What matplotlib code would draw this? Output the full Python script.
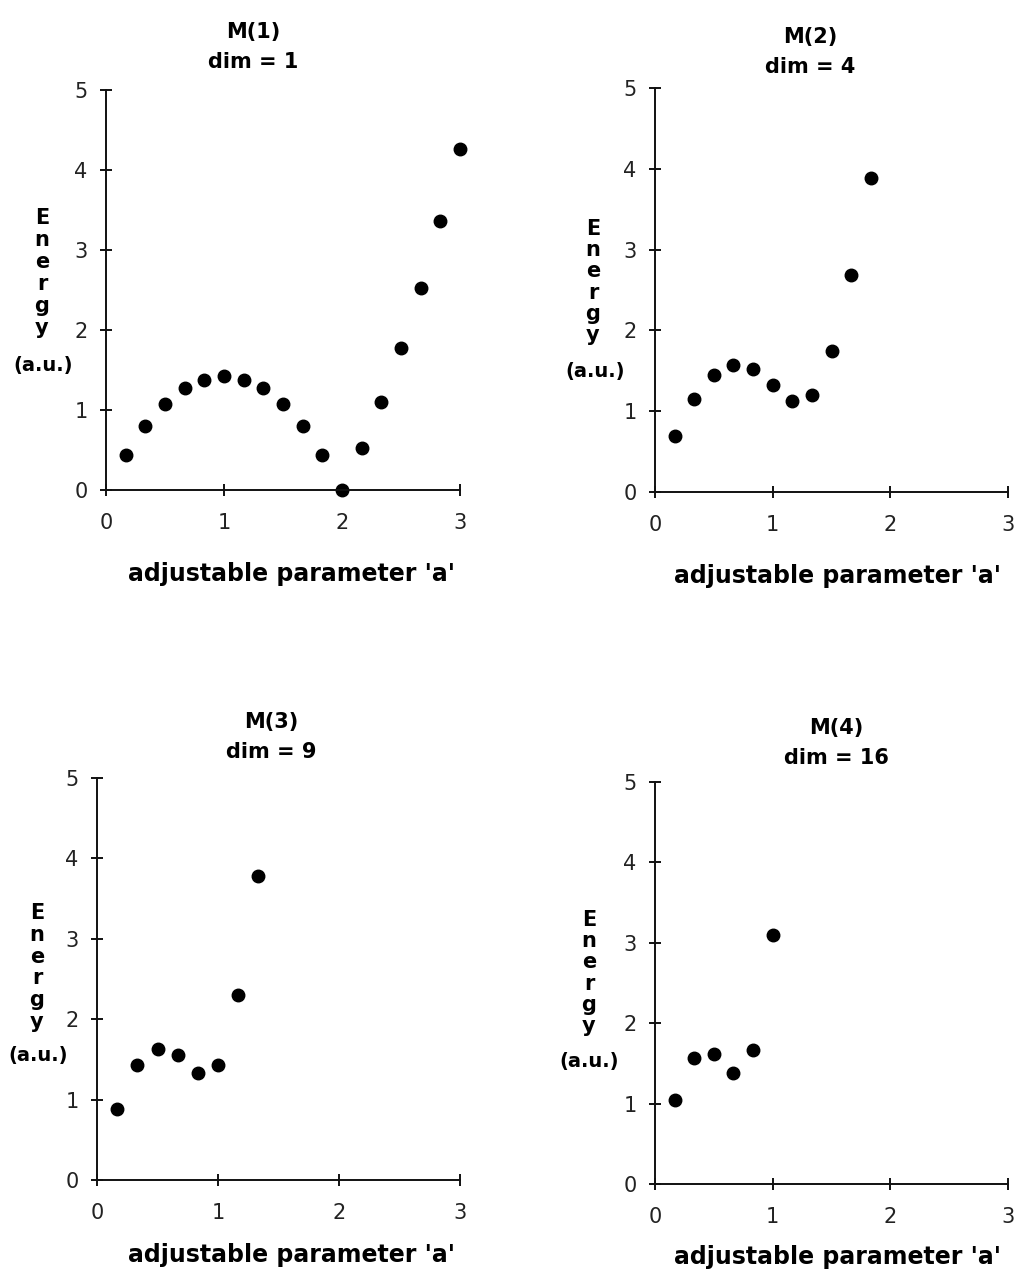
import numpy as np
import matplotlib
matplotlib.use('Agg')
import matplotlib.pyplot as plt

# adjustable parameter a, steps of 1/6
a_m1 = [1/6, 2/6, 3/6, 4/6, 5/6, 1.0, 7/6, 8/6, 9/6, 10/6, 11/6, 2.0,
        13/6, 14/6, 15/6, 16/6, 17/6, 3.0]
e_m1 = [0.44, 0.80, 1.07, 1.27, 1.37, 1.42, 1.37, 1.27, 1.07, 0.80, 0.44, 0.0,
        0.52, 1.10, 1.78, 2.53, 3.36, 4.26]

a_m2 = [1/6, 2/6, 3/6, 4/6, 5/6, 1.0, 7/6, 8/6, 9/6, 10/6, 11/6]
e_m2 = [0.69, 1.15, 1.45, 1.57, 1.52, 1.33, 1.13, 1.20, 1.75, 2.69, 3.89]

a_m3 = [1/6, 2/6, 3/6, 4/6, 5/6, 1.0, 7/6, 8/6]
e_m3 = [0.88, 1.43, 1.63, 1.56, 1.33, 1.43, 2.30, 3.78]

a_m4 = [1/6, 2/6, 3/6, 4/6, 5/6, 1.0]
e_m4 = [1.05, 1.57, 1.62, 1.38, 1.67, 3.10]

names = ['M(1)', 'M(2)', 'M(3)', 'M(4)']
dims = ['dim = 1', 'dim = 4', 'dim = 9', 'dim = 16']
xticks = [0, 1, 2, 3]
yticks = [0, 1, 2, 3, 4, 5]

W, H = 1019, 1280
fig = plt.figure(figsize=(W/100, H/100), dpi=100)

def px(x, y):
    return x / W, 1 - y / H

def panel(rect, a, e, name, dim, title_x, title_y, xlabel_xy, ylab_x, ylab_y0, ylab_step, au_xy):
    # rect in pixels: left, top, right, bottom
    x0, y0, x1, y1 = rect
    ax = fig.add_axes([x0/W, 1 - y1/H, (x1-x0)/W, (y1-y0)/H])
    ax.plot(a, e, 'o', color='black', markersize=9, clip_on=False)
    ax.set_xlim(0, 3)
    ax.set_ylim(0, 5)
    ax.set_xticks(xticks)
    ax.set_yticks(yticks)
    ax.spines['top'].set_visible(False)
    ax.spines['right'].set_visible(False)
    for s in ['left', 'bottom']:
        ax.spines[s].set_linewidth(1.4)
        ax.spines[s].set_color('#111111')
    ax.tick_params(axis='y', direction='inout', length=8.5, width=1.4, pad=9,
                   labelsize=15, labelcolor='#222222', color='#111111')
    ax.tick_params(axis='x', direction='inout', length=8.5, width=1.4, pad=12,
                   labelsize=15, labelcolor='#222222', color='#111111')

    fig.text(*px(title_x, title_y), name, ha='center', va='center',
             fontsize=15, fontweight='bold')
    fig.text(*px(title_x, title_y + 30), dim, ha='center', va='center',
             fontsize=15, fontweight='bold')
    fig.text(*px(*xlabel_xy), "adjustable parameter 'a'", ha='center', va='center',
             fontsize=17, fontweight='bold')
    # vertical stacked y label
    for i, ch in enumerate('Energy'):
        fig.text(*px(ylab_x, ylab_y0 + i * ylab_step), ch, ha='center', va='center',
                 fontsize=15, fontweight='bold')
    fig.text(*px(*au_xy), '(a.u.)', ha='center', va='center', fontsize=14,
             fontweight='bold')
    return ax

panel((106, 90, 460, 490), a_m1, e_m1, names[0], dims[0], 253, 32, (291, 574),
      42, 218, 22, (43, 365))
panel((655, 88, 1008, 492), a_m2, e_m2, names[1], dims[1], 810, 37, (838, 576),
      593, 229, 21.2, (595, 371))
panel((97, 778, 460, 1180), a_m3, e_m3, names[2], dims[2], 271, 722, (291, 1255),
      37, 913, 21.8, (38, 1056))
panel((655, 782, 1008, 1184), a_m4, e_m4, names[3], dims[3], 836, 728, (838, 1257),
      589, 920, 21.2, (589, 1061))

plt.savefig('out.png', dpi=100)
